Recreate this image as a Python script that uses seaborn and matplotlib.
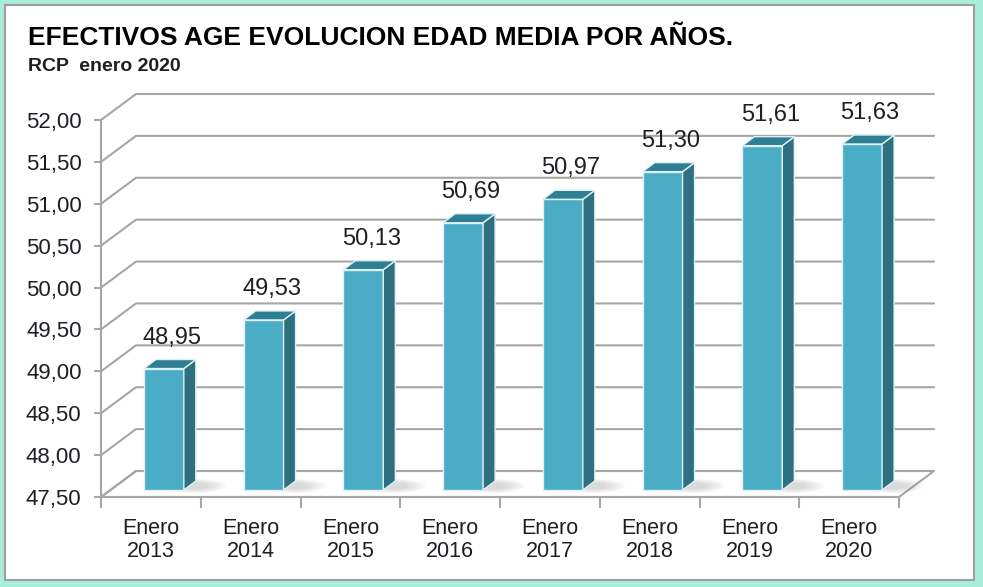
import numpy as np
import matplotlib
matplotlib.use("Agg")
import matplotlib.pyplot as plt
import seaborn as sns
from matplotlib.patches import Polygon, Rectangle, Ellipse

# -----------------------------
# DATA
# -----------------------------
years = ["2013", "2014", "2015", "2016", "2017", "2018", "2019", "2020"]
categories = ["Enero\n" + y for y in years]
edad_media = [48.95, 49.53, 50.13, 50.69, 50.97, 51.30, 51.61, 51.63]
y_ticks = [47.50, 48.00, 48.50, 49.00, 49.50, 50.00, 50.50, 51.00, 51.50, 52.00]

title = "EFECTIVOS AGE EVOLUCION EDAD MEDIA POR AÑOS."
subtitle = "RCP  enero 2020"

# -----------------------------
# STYLE
# -----------------------------
sns.set_theme(style="white")
plt.rcParams["font.family"] = ["Liberation Sans", "DejaVu Sans"]

MINT = "#A9EEDB"
GRID = "#A6A6A6"
FRONT = "#4BACC6"
SIDE = "#2E6F80"
TOP = "#2F7F92"
EDGE = "#DDF0F5"
TXT = "#1E1E24"

W, H = 983, 587
fig = plt.figure(figsize=(W / 100, H / 100), dpi=100)
fig.patch.set_facecolor(MINT)

# white panel with grey border
fig.patches.append(Rectangle((5 / W, 7 / H), 969 / W, 575 / H,
                             transform=fig.transFigure, facecolor="white",
                             edgecolor="#9E9E9E", linewidth=1.5, zorder=-10))

fig.text(28 / W, (H - 45) / H, title, fontsize=19, fontweight="bold",
         color="black", va="baseline", ha="left")
fig.text(28 / W, (H - 71) / H, subtitle, fontsize=14, fontweight="bold",
         color=TXT, va="baseline", ha="left")

# front plane of the axes
ax_l, ax_b, ax_w, ax_h = 101, 90, 798, 377
ax = fig.add_axes([ax_l / W, ax_b / H, ax_w / W, ax_h / H])
ax.set_facecolor("none")

# -----------------------------
# BARS (front faces)
# -----------------------------
sns.barplot(x=categories, y=edad_media, color=FRONT, width=0.4, ax=ax,
            saturation=1, edgecolor=EDGE, linewidth=1, zorder=3)
bars = list(ax.patches)

ax.set_xlim(-0.5, len(categories) - 0.5)
ax.set_ylim(y_ticks[0], y_ticks[-1])

# pixel -> data helpers
px_x = ax_w / len(categories)
px_y = ax_h / (y_ticks[-1] - y_ticks[0])
def dx(p):
    return p / px_x
def dy(p):
    return p / px_y

WX, WY = dx(35), dy(26)      # depth of the back wall
SX, SY = dx(13), dy(7)       # bar front face shift
BX, BY = dx(12), dy(9)       # bar depth

x0, x1 = ax.get_xlim()
ymin = y_ticks[0]

# floor
ax.add_patch(Polygon([(x0, ymin), (x1, ymin), (x1 + WX, ymin + WY), (x0 + WX, ymin + WY)],
                     closed=True, facecolor="white", edgecolor=GRID, linewidth=1.5,
                     clip_on=False, zorder=1))

# gridlines on back wall
for t in y_ticks:
    ax.plot([x0, x0 + WX, x1 + WX], [t, t + WY, t + WY], color=GRID,
            linewidth=1.5, clip_on=False, zorder=1)

for patch, v in zip(bars, edad_media):
    h = patch.get_height()
    patch.set_x(patch.get_x() + SX)
    patch.set_y(ymin + SY)
    patch.set_height(h - ymin)
    patch.set_clip_on(False)

    bx0 = patch.get_x()
    bx1 = bx0 + patch.get_width()
    by0 = patch.get_y()
    by1 = by0 + patch.get_height()

    # soft shadow on the floor
    for k in range(6):
        ax.add_patch(Ellipse((bx1 + dx(12), by0 + dy(4)), dx(60 - 7 * k), dy(14 - 1.5 * k),
                             facecolor="#808080", edgecolor="none", alpha=0.05,
                             clip_on=False, zorder=2))

    ax.add_patch(Polygon([(bx1, by0), (bx1 + BX, by0 + BY), (bx1 + BX, by1 + BY), (bx1, by1)],
                         closed=True, facecolor=SIDE, edgecolor=EDGE, linewidth=1,
                         clip_on=False, zorder=3))
    ax.add_patch(Polygon([(bx0, by1), (bx1, by1), (bx1 + BX, by1 + BY), (bx0 + BX, by1 + BY)],
                         closed=True, facecolor=TOP, edgecolor=EDGE, linewidth=1,
                         clip_on=False, zorder=3))

    ax.text((bx0 + bx1) / 2 + dx(8), by1 + BY + dy(16), f"{v:.2f}".replace(".", ","),
            ha="center", va="baseline", fontsize=17, color=TXT, zorder=4)

# -----------------------------
# AXES
# -----------------------------
for side in ["top", "right"]:
    ax.spines[side].set_visible(False)
for side in ["left", "bottom"]:
    ax.spines[side].set_color(GRID)
    ax.spines[side].set_linewidth(1.5)
    ax.spines[side].set_zorder(2)

ax.set_yticks(y_ticks)
ax.set_yticklabels([f"{t:.2f}".replace(".", ",") for t in y_ticks])
ax.tick_params(axis="y", left=True, length=5, width=1.5, color=GRID,
               labelsize=16, labelcolor=TXT, pad=9)

ax.set_xticks(np.arange(len(categories)))
ax.set_xticklabels(categories, linespacing=1.12)
ax.set_xticks(np.arange(x0, x1 + 0.01, 1), minor=True)
ax.tick_params(axis="x", which="major", bottom=False, length=0,
               labelsize=15.5, labelcolor=TXT, pad=15)
ax.tick_params(axis="x", which="minor", bottom=True, length=8, width=1.5, color=GRID)
ax.set_xlabel("")
ax.set_ylabel("")
ax.grid(False)

fig.savefig("out.png", dpi=100, facecolor=fig.get_facecolor())
